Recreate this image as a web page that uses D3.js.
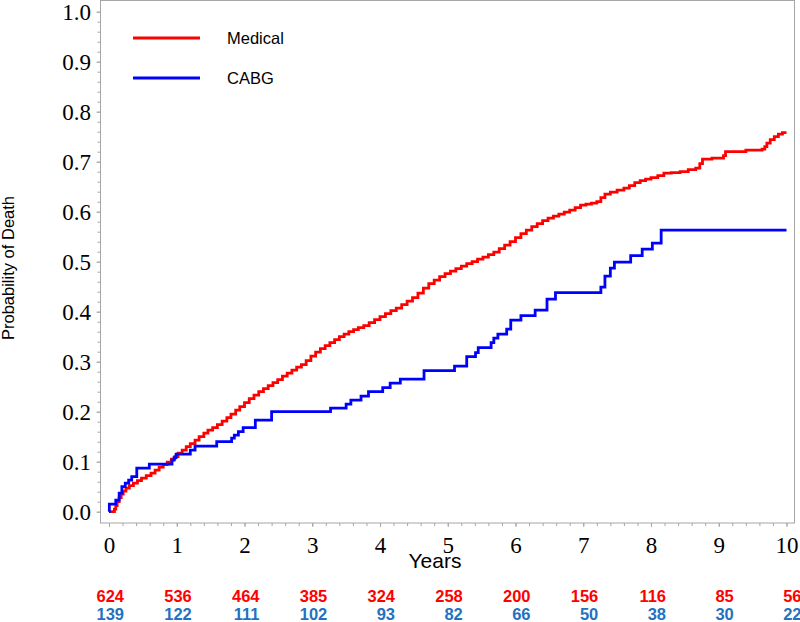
<!DOCTYPE html>
<html>
<head>
<meta charset="utf-8">
<script src="https://cdn.jsdelivr.net/npm/d3@7"></script>
<style>
  html, body { margin: 0; padding: 0; background: #fff; }
  svg { display: block; }
</style>
</head>
<body>
<svg id="chart" width="800" height="622"></svg>
<script>
// ---------- DATA ----------
const seriesNames = ["Medical", "CABG"];
const seriesColors = ["#ff0000", "#0000ff"];

// Medical (red) Kaplan-Meier cumulative probability of death: [years, prob]
const medicalCurve = [
  [0,0],[0.08,0.005],[0.10,0.012],[0.12,0.02],[0.15,0.028],[0.18,0.035],[0.21,0.041],[0.25,0.047],
  [0.30,0.052],[0.36,0.057],[0.42,0.062],[0.48,0.067],[0.55,0.072],[0.62,0.077],[0.68,0.083],
  [0.74,0.089],[0.80,0.094],[0.86,0.099],[0.92,0.105],[0.97,0.110],[1.02,0.117],[1.08,0.123],
  [1.14,0.130],[1.20,0.136],[1.27,0.143],[1.33,0.150],[1.40,0.157],[1.46,0.163],[1.53,0.168],
  [1.60,0.174],[1.67,0.181],[1.74,0.188],[1.80,0.195],[1.87,0.203],[1.93,0.210],[2.00,0.218],
  [2.07,0.226],[2.14,0.233],[2.21,0.240],[2.28,0.246],[2.35,0.252],[2.42,0.258],[2.49,0.264],
  [2.56,0.271],[2.63,0.277],[2.70,0.283],[2.77,0.289],[2.84,0.294],[2.91,0.302],[2.98,0.311],
  [3.05,0.319],[3.12,0.326],[3.19,0.332],[3.26,0.338],[3.33,0.344],[3.40,0.350],[3.47,0.355],
  [3.54,0.360],[3.61,0.364],[3.68,0.368],[3.76,0.372],[3.84,0.378],[3.92,0.384],[4.00,0.390],
  [4.08,0.396],[4.16,0.402],[4.24,0.407],[4.32,0.414],[4.40,0.421],[4.48,0.428],[4.56,0.437],
  [4.64,0.447],[4.72,0.456],[4.80,0.463],[4.88,0.470],[4.96,0.476],[5.04,0.481],[5.12,0.486],
  [5.20,0.491],[5.28,0.496],[5.36,0.500],[5.44,0.505],[5.52,0.509],[5.60,0.514],[5.68,0.519],
  [5.76,0.526],[5.84,0.533],[5.92,0.540],[6.00,0.548],[6.08,0.556],[6.16,0.563],[6.24,0.570],
  [6.32,0.576],[6.40,0.582],[6.48,0.587],[6.56,0.591],[6.64,0.595],[6.72,0.599],[6.80,0.603],
  [6.88,0.608],[6.96,0.613],[7.04,0.615],[7.12,0.617],[7.20,0.620],[7.26,0.628],[7.32,0.635],
  [7.40,0.639],[7.50,0.643],[7.60,0.647],[7.68,0.652],[7.76,0.658],[7.84,0.662],[7.92,0.665],
  [8.00,0.668],[8.10,0.672],[8.19,0.677],[8.30,0.678],[8.43,0.680],[8.55,0.684],[8.66,0.687],
  [8.72,0.696],[8.76,0.705],[8.90,0.707],[9.07,0.712],[9.10,0.720],[9.40,0.723],[9.64,0.725],
  [9.68,0.730],[9.71,0.737],[9.76,0.744],[9.82,0.750],[9.88,0.755],[9.94,0.758],[10.0,0.758]
];

// CABG (blue) Kaplan-Meier cumulative probability of death: [years, prob]
const cabgCurve = [
  [0,0],[0.005,0.015],[0.10,0.023],[0.15,0.037],[0.19,0.05],[0.24,0.057],[0.29,0.063],
  [0.335,0.07],[0.41,0.087],[0.595,0.095],[0.93,0.103],[0.96,0.108],[0.99,0.115],[1.20,0.123],
  [1.27,0.131],[1.59,0.14],[1.81,0.147],[1.85,0.153],[1.91,0.16],[1.98,0.168],[2.16,0.183],
  [2.40,0.2],[3.27,0.207],[3.50,0.215],[3.57,0.223],[3.72,0.231],[3.83,0.24],[4.04,0.248],
  [4.15,0.257],[4.30,0.265],[4.65,0.282],[5.10,0.291],[5.28,0.31],[5.41,0.318],[5.45,0.328],
  [5.64,0.338],[5.68,0.347],[5.74,0.355],[5.87,0.365],[5.93,0.383],[6.08,0.392],[6.29,0.403],
  [6.465,0.425],[6.59,0.438],[7.26,0.449],[7.32,0.471],[7.40,0.487],[7.46,0.499],[7.70,0.512],
  [7.87,0.525],[8.02,0.537],[8.15,0.563],[10.0,0.563]
];

// Axis ticks
const xTicks = [0,1,2,3,4,5,6,7,8,9,10];
const yTicks = [0,0.1,0.2,0.3,0.4,0.5,0.6,0.7,0.8,0.9,1.0];

// Number at risk
const riskYears = [0,1,2,3,4,5,6,7,8,9,10];
const medicalAtRisk = [624,536,464,385,324,258,200,156,116,85,56];
const cabgAtRisk = [139,122,111,102,93,82,66,50,38,30,22];
const riskColors = ["#ff0000", "#1f72c0"];

// ---------- DRAW ----------
const svg = d3.select("#chart");
const x = d3.scaleLinear().domain([0, 10]).range([109, 786.5]);
const y = d3.scaleLinear().domain([0, 1]).range([511.7, 11.7]);

const frame = { left: 100, right: 794.5, top: 0.5, bottom: 523 };
const serif = "'Liberation Serif', 'Times New Roman', serif";
const sans = "'Liberation Sans', Arial, sans-serif";

// frame
svg.append("rect")
  .attr("x", frame.left + 0.5).attr("y", frame.top)
  .attr("width", frame.right - frame.left - 0.5)
  .attr("height", frame.bottom - frame.top)
  .attr("fill", "none").attr("stroke", "#a6a6a6").attr("stroke-width", 1);

// y axis
const yMinor = d3.range(0, 1.0001, 0.02);
svg.append("g").attr("transform", `translate(${frame.left + 0.5},0)`)
  .call(d3.axisLeft(y).tickValues(yMinor).tickSize(3).tickFormat(""))
  .call(g => g.select(".domain").remove())
  .call(g => g.selectAll("line").attr("stroke", "#a6a6a6"));
svg.append("g").attr("transform", `translate(${frame.left + 0.5},0)`)
  .call(d3.axisLeft(y).tickValues(yTicks).tickSize(4).tickFormat(d3.format(".1f")).tickPadding(5.5))
  .call(g => g.select(".domain").remove())
  .call(g => g.selectAll("line").attr("stroke", "#a6a6a6"))
  .call(g => g.selectAll("text").attr("font-family", serif).attr("font-size", 23).attr("fill", "#000"));

// x axis
const xMinor = d3.range(0, 10.0001, 0.2);
svg.append("g").attr("transform", `translate(0,${frame.bottom})`)
  .call(d3.axisBottom(x).tickValues(xMinor).tickSize(3).tickFormat(""))
  .call(g => g.select(".domain").remove())
  .call(g => g.selectAll("line").attr("stroke", "#a6a6a6"));
svg.append("g").attr("transform", `translate(0,${frame.bottom})`)
  .call(d3.axisBottom(x).tickValues(xTicks).tickSize(4).tickFormat(d3.format("d")).tickPadding(9.5))
  .call(g => g.select(".domain").remove())
  .call(g => g.selectAll("line").attr("stroke", "#a6a6a6"))
  .call(g => g.selectAll("text").attr("font-family", serif).attr("font-size", 23).attr("fill", "#000"));

// axis titles
svg.append("text")
  .attr("x", 435).attr("y", 568)
  .attr("text-anchor", "middle")
  .attr("font-family", sans).attr("font-size", 21)
  .text("Years");
svg.append("text")
  .attr("transform", "translate(13.5,268) rotate(-90)")
  .attr("text-anchor", "middle")
  .attr("font-family", sans).attr("font-size", 16.5)
  .text("Probability of Death");

// curves
const line = d3.line().x(d => x(d[0])).y(d => y(d[1])).curve(d3.curveStepAfter);
[medicalCurve, cabgCurve].forEach((c, i) => {
  svg.append("path")
    .datum(c)
    .attr("d", line)
    .attr("fill", "none")
    .attr("stroke", seriesColors[i])
    .attr("stroke-width", 2.8)
    .attr("stroke-linejoin", "miter");
});

// legend
const legend = svg.append("g");
seriesNames.forEach((name, i) => {
  const ly = 38 + i * 40;
  legend.append("line")
    .attr("x1", 133).attr("x2", 200).attr("y1", ly).attr("y2", ly)
    .attr("stroke", seriesColors[i]).attr("stroke-width", 3);
  legend.append("text")
    .attr("x", 227).attr("y", ly + 6)
    .attr("font-family", sans).attr("font-size", 16.5)
    .attr("fill", "#000")
    .text(name);
});

// number at risk
[medicalAtRisk, cabgAtRisk].forEach((arr, i) => {
  svg.append("g").selectAll("text")
    .data(arr)
    .join("text")
    .attr("x", (d, j) => x(riskYears[j]) + 15)
    .attr("y", 601.5 + i * 18.5)
    .attr("text-anchor", "end")
    .attr("font-family", sans).attr("font-size", 16.5).attr("font-weight", "bold")
    .attr("fill", riskColors[i])
    .text(d => d);
});
</script>
</body>
</html>
